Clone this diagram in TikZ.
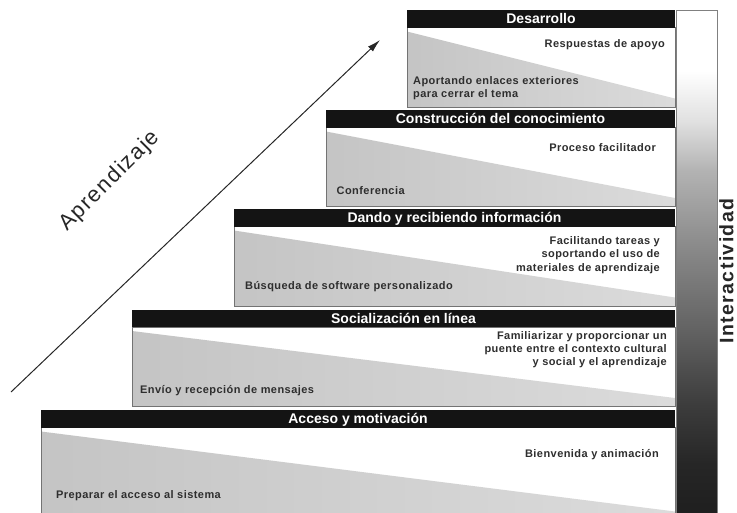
\documentclass[tikz,border=0pt]{standalone}
\usepackage{fontspec}
\setmainfont{Liberation Sans}
\newfontfamily\trackfont{Liberation Sans}[LetterSpace=4]
\newfontfamily\bigtrack{Liberation Sans}[LetterSpace=7]
\usetikzlibrary{arrows.meta}

% light at the top, dark at the bottom
\pgfdeclareverticalshading{interbar}{100bp}{%
  color(0bp)=(black!88); color(25bp)=(black!88); color(30.2bp)=(black!85);
  color(36.2bp)=(black!76); color(43.1bp)=(black!62); color(51.1bp)=(black!47);
  color(59.1bp)=(black!30); color(64bp)=(black!12); color(69bp)=(white);
  color(100bp)=(white)}

\tikzset{
  hdrbar/.style={fill=black!92},
  hdrtext/.style={text=white, font=\bfseries\fontsize{14}{16}\selectfont,
    inner sep=0pt, anchor=base},
  bodyframe/.style={draw=black!55, line width=0.7pt},
  shadedtri/.style={left color=black!23, right color=black!14},
  note/.style={font=\trackfont\bfseries\fontsize{11}{13.3}\selectfont,
    text=black!82, inner sep=0pt},
  bigword/.style={text=black!85, inner sep=0pt},
}

% #1 name, #2 left edge, #3 top of the title bar, #4 bottom edge, #5 title
\newcommand{\stairstep}[5]{%
  \fill[white] (#2,#3) rectangle (675,#4);
  \shade[shadedtri] (#2,#3+21.5) -- (675,#4-8.5) -- (675,#4) -- (#2,#4) -- cycle;
  \draw[bodyframe] (#2,#3+17.5) rectangle (675,#4);
  \fill[hdrbar] (#2,#3) rectangle (675,#3+17.5);
  \node[hdrtext] (#1) at ({(#2+675)/2},#3+13.75) {#5};
}

\begin{document}
\begin{tikzpicture}[x=1pt,y=-1pt]
\useasboundingbox (0,0) rectangle (737,512);
\clip (0,0) rectangle (737,512);

% interactivity bar
\shadedraw[shading=interbar, draw=black!50, line width=0.6pt] (676,10) rectangle (717,516);

% the five steps, from the top down
\stairstep{desarrollo}{407}{10}{107}{Desarrollo}
\stairstep{construccion}{326}{110}{206.5}{Construcción del conocimiento}
\stairstep{dando}{234}{209}{306}{Dando y recibiendo información}
\stairstep{socializacion}{132}{309.5}{406.5}{Socialización en línea}
\stairstep{acceso}{41}{410}{520}{Acceso y motivación}

% step notes
\node[note, anchor=east] (dev-r) at (665,44.5) {Respuestas de apoyo};
\node[note, anchor=west, align=left] (dev-l) at (413,88.3) {Aportando enlaces exteriores\\para cerrar el tema};
\node[note, anchor=east] (con-r) at (656,148) {Proceso facilitador};
\node[note, anchor=west] (con-l) at (336.5,190.5) {Conferencia};
\node[note, anchor=east, align=right] (dan-r) at (660,255) {Facilitando tareas y\\soportando el uso de\\materiales de aprendizaje};
\node[note, anchor=west] (dan-l) at (245,286.5) {Búsqueda de software personalizado};
\node[note, anchor=east, align=right] (soc-r) at (667,349.5) {Familiarizar y proporcionar un\\puente entre el contexto cultural\\y social y el aprendizaje};
\node[note, anchor=west] (soc-l) at (140,390.5) {Envío y recepción de mensajes};
\node[note, anchor=east] (acc-r) at (659,455) {Bienvenida y animación};
\node[note, anchor=west] (acc-l) at (56,496) {Preparar el acceso al sistema};

% learning arrow
\coordinate (learn-tail) at (11,392);
\coordinate (learn-tip) at (380,40);
\draw[-{Latex[length=13pt,width=7pt]}, line width=1pt, black!85] (learn-tail) -- (learn-tip);
\node[bigword, font=\bigtrack\fontsize{22}{24}\selectfont, rotate=45] (learn) at (110,181) {Aprendizaje};

% interactivity label
\node[bigword, font=\bigtrack\bfseries\fontsize{19.5}{22}\selectfont, rotate=90] (inter) at (726.3,271) {Interactividad};
\end{tikzpicture}
\end{document}
